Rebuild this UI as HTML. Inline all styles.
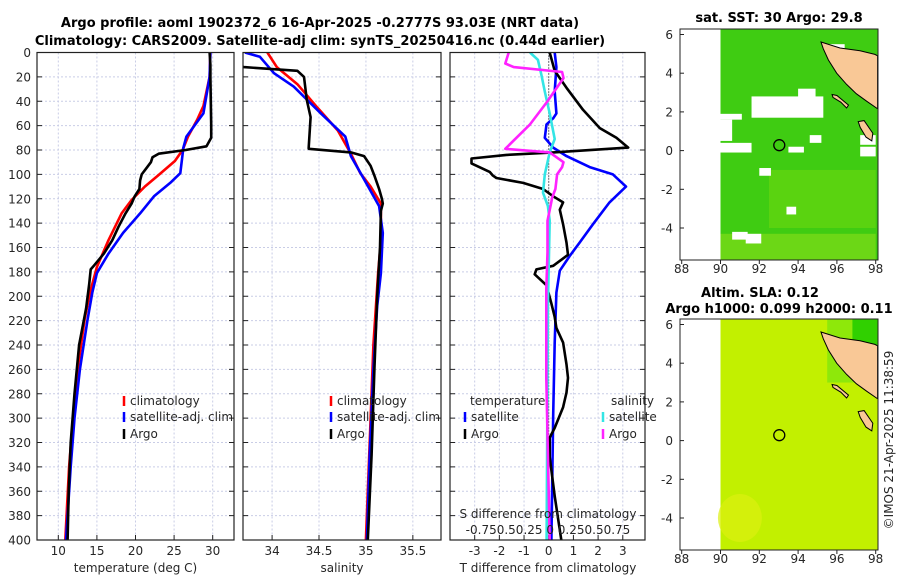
<!DOCTYPE html>
<html><head><meta charset="utf-8"><style>
html,body{margin:0;padding:0;background:#fff;}
svg{display:block;font-family:"DejaVu Sans","Liberation Sans",sans-serif;}
.t{font-size:12px;fill:#262626;}
.b{font-size:13px;font-weight:bold;fill:#000;}
</style></head><body>
<svg id="s" width="900" height="580" viewBox="0 0 900 580" xmlns="http://www.w3.org/2000/svg">
<defs>
<clipPath id="c1"><rect x="37" y="52.5" width="197" height="487.5"/></clipPath>
<clipPath id="c2"><rect x="243" y="52.5" width="198" height="487.5"/></clipPath>
<clipPath id="c3"><rect x="450" y="52.5" width="195" height="487.5"/></clipPath>
<clipPath id="m1"><rect x="680" y="29" width="198" height="231"/></clipPath>
<clipPath id="m2"><rect x="680" y="319" width="198" height="231"/></clipPath>
</defs>
<text class="b" x="320" y="27" text-anchor="middle">Argo profile: aoml 1902372_6 16-Apr-2025 -0.2777S 93.03E (NRT data)</text>
<text class="b" x="320" y="45" text-anchor="middle">Climatology: CARS2009. Satellite-adj clim: synTS_20250416.nc (0.44d earlier)</text>
<g id="root"></g>
</svg>
<script>
// ---- data ----
const depthTicks=[0,20,40,60,80,100,120,140,160,180,200,220,240,260,280,300,320,340,360,380,400];
const tempTicks=[10,15,20,25,30];
const salTicks=[34,34.5,35,35.5];
const salTickLabels=["34","34.5","35","35.5"];
const tdiffTicks=[-3,-2,-1,0,1,2,3];
const sdiffTickLabels=["-0.75","0.5","0.25","0","0.25","0.5","0.75"];

const argoTD=[0,10,20,40,60,70,77,80,83,86,90,95,100,105,112,118,124,132,143,154,165,175,178,190,210,240,280,320,360,400];
const argoT=[29.6,29.7,29.7,29.75,29.8,29.8,29.2,26.5,23,22.2,22,21.4,20.8,20.6,20.5,19.9,19.5,18.7,17.8,17.0,15.9,14.6,14.2,14.0,13.6,12.7,12.1,11.6,11.35,11.2];
const climTD=[0,20,44,55,69,80,89,101,110,121,132,154,176,197,219,260,300,340,400];
const climT=[29.7,29.6,28.8,28.0,26.8,26.1,25.1,22.9,21.2,19.5,18.2,16.5,15.0,14.1,13.4,12.5,11.9,11.4,10.9];
const satTD=[0,20,50,69,78,99,107,118,132,148,165,181,197,219,260,300,340,400];
const satT=[29.7,29.6,28.8,26.6,26.2,25.8,24.5,22.4,20.6,18.4,16.5,15.0,14.4,13.8,12.8,12.1,11.6,11.0];

const argoSD=[11,12,15,20,39,53,78,79,82,85,93,101,112,120,124,130,160,200,260,330,400];
const argoS=[33.6,33.7,34.27,34.34,34.37,34.41,34.39,34.39,34.84,34.98,35.05,35.09,35.14,35.17,35.18,35.16,35.15,35.12,35.09,35.06,35.02];
const climSD=[0,12,26,45,64,83,99,110,124,154,181,240,320,400];
const climS=[33.95,34.05,34.27,34.48,34.70,34.84,34.94,35.05,35.16,35.16,35.13,35.08,35.04,35.0];
const satSD=[0,3.5,17,28,50,69,85,104,126,148,181,208,260,330,400];
const satS=[33.71,33.87,34.02,34.23,34.52,34.78,34.84,34.98,35.14,35.18,35.16,35.12,35.08,35.04,35.01];

const dArgoTD=[0,15,29,47,62,70,78,82,84,87,91,98,101,103,107,112,118,123,129,141,156,166,175,178,182,191,206,217,226,238,256,267,279,291,308,316,332,364,400];
const dArgoT=[0.04,0.24,0.72,1.39,2.07,2.74,3.22,0.18,-1.71,-3.13,-3.13,-2.39,-2.26,-2.12,-1.04,-0.23,0.18,0.58,0.45,0.58,0.72,0.78,0.18,-0.5,-0.57,-0.09,0.11,0.24,0.31,0.58,0.72,0.78,0.72,0.58,0.24,0.04,0.04,0.24,0.51];
const dSatTD=[0,12,32,50,54,59,70,78,85,94,100,110,123,141,156,167,179,197,238,297,400];
const dSatT=[0.24,0.31,0.24,0.31,0.18,-0.09,-0.16,0.18,0.72,1.66,2.6,3.13,2.46,1.79,1.25,0.85,0.45,0.31,0.24,0.18,0.11];
const dArgoSD=[0,9,12,16,21,41,59,79,82,90,94,100,112,119,126,138,164,194,267,400];
const dArgoS=[-0.405,-0.44,-0.355,0.135,0.15,-0.022,-0.19,-0.44,0.01,0.15,0.135,0.085,0.068,0.035,0.018,-0.012,-0.012,-0.025,-0.025,0.01];
const dSatSD=[0,6,18,32,50,71,82,100,115,126,138,208,400];
const dSatS=[-0.19,-0.11,-0.075,-0.04,0.01,0.06,0.01,-0.04,-0.058,-0.008,0.01,-0.008,-0.022];

const lonTicks=[88,90,92,94,96,98];
const latTicks=[6,4,2,0,-2,-4];
const argoLon=93.03, argoLat=0.28;
const landLon=[95.18,96.16,97.19,97.96,98.1,98.1,97.54,97.0,96.5,95.99,95.56,95.3];
const landLat=[5.61,5.30,5.16,4.97,4.9,2.16,2.55,2.94,3.42,4.0,4.68,5.26];
const simLon=[95.75,96.0,96.6,96.5,96.2,95.8];
const simLat=[2.9,2.85,2.35,2.2,2.5,2.75];
const niasLon=[97.1,97.4,97.85,97.8,97.5,97.2];
const niasLat=[1.5,1.55,0.9,0.5,0.7,1.2];
// white gaps in SST map [lon0,lon1,lat0,lat1]
const gapLon0=[90,90,91.6,94.0,95.6,96.4,97.2,90.0,93.5,94.6,97.2,92.0,90.6,93.4,91.3];
const gapLon1=[90.6,91.1,95.3,94.9,96.4,97.2,98.0,91.6,94.3,95.2,98.0,92.6,91.4,93.9,92.1];
const gapLat0=[0.5,1.6,1.7,2.2,4.6,4.3,0.3,-0.1,-0.1,0.4,-0.3,-1.3,-4.6,-3.3,-4.8];
const gapLat1=[1.6,1.9,2.8,3.2,5.5,5.0,0.8,0.4,0.2,0.8,0.2,-0.9,-4.2,-2.9,-4.3];

// ---- helpers ----
const NS="http://www.w3.org/2000/svg";
const root=document.getElementById('root');
function mk(tag,attrs,parent){const e=document.createElementNS(NS,tag);for(const k in attrs)e.setAttribute(k,attrs[k]);(parent||root).appendChild(e);return e;}
const Y0=52.5,Y1=540;
const yD=d=>Y0+d/400*(Y1-Y0);
function lin(d0,d1,r0,r1){return v=>r0+(v-d0)/(d1-d0)*(r1-r0);}
const P=[
 {x0:37,x1:234,sc:lin(7.24,32.76,37,234),clip:'c1'},
 {x0:243,x1:441,sc:lin(33.69,35.80,243,441),clip:'c2'},
 {x0:450,x1:645,sc:lin(-4.0,3.9,450,645),clip:'c3'}];

function panelFrame(p,vt,name){
  const bg=mk('rect',{x:p.x0,y:Y0,width:p.x1-p.x0,height:Y1-Y0,fill:'#fff'});
  
  
  depthTicks.forEach(d=>{
    const g=mk('line',{x1:p.x0,x2:p.x1,y1:yD(d),y2:yD(d),stroke:'#c9cde6','stroke-width':1,'stroke-dasharray':'2,2'});
    
    
    const t1=mk('line',{x1:p.x0,x2:p.x0+5,y1:yD(d),y2:yD(d),stroke:'#222'});
    
    
    const t2=mk('line',{x1:p.x1-5,x2:p.x1,y1:yD(d),y2:yD(d),stroke:'#222'});
    
    
  });
  vt.forEach(v=>{
    const x=p.sc(v);
    const g=mk('line',{x1:x,x2:x,y1:Y0,y2:Y1,stroke:'#c9cde6','stroke-width':1,'stroke-dasharray':'2,2'});
    
    
    const t=mk('line',{x1:x,x2:x,y1:Y1-5,y2:Y1,stroke:'#222'});
    
    
  });
}
function frameBorder(p,name){
  const r=mk('rect',{x:p.x0,y:Y0,width:p.x1-p.x0,height:Y1-Y0,fill:'none',stroke:'#222','stroke-width':1.2});
  
  
}
function series(p,vals,depths,color,name,mult){
  mult=mult||1;
  const pts=vals.map((v,i)=>p.sc(v*mult).toFixed(1)+','+yD(depths[i]).toFixed(1)).join(' ');
  const l=mk('polyline',{points:pts,fill:'none',stroke:color,'stroke-width':2.6,'stroke-linejoin':'round','clip-path':'url(#'+p.clip+')'});
  
  
}
function txt(x,y,s,anchor,name,cls){
  const t=mk('text',{x:x,y:y,'text-anchor':anchor||'start',class:cls||'t'});
  t.textContent=s;
  
  
  return t;
}
function marker(x,y,color,name){
  const m=mk('line',{x1:x,x2:x,y1:y-5,y2:y+5,stroke:color,'stroke-width':2.5});
  
  
}

// ---- panel 1: temperature ----
panelFrame(P[0],tempTicks,'temperature-panel');
series(P[0],climT,climTD,'#ff0000','temperature-climatology-line');
series(P[0],satT,satTD,'#0000ff','temperature-satellite-line');
series(P[0],argoT,argoTD,'#000000','temperature-argo-line');
depthTicks.forEach(d=>txt(31,yD(d)+4.5,String(d),'end','depth-tick-label'));
tempTicks.forEach(v=>txt(P[0].sc(v),555,String(v),'middle','temperature-tick-label'));
txt(135.5,572,'temperature (deg C)','middle','temperature-axis-title');
marker(124,401,'#ff0000','legend-climatology-marker');
txt(130,405,'climatology','start','legend-climatology');
marker(124,417,'#0000ff','legend-satellite-marker');
txt(130,421,'satellite-adj. clim','start','legend-satellite-adj-clim');
marker(124,434,'#000000','legend-argo-marker');
txt(130,438,'Argo','start','legend-argo');
frameBorder(P[0],'temperature-panel');

// ---- panel 2: salinity ----
panelFrame(P[1],salTicks,'salinity-panel');
series(P[1],climS,climSD,'#ff0000','salinity-climatology-line');
series(P[1],satS,satSD,'#0000ff','salinity-satellite-line');
series(P[1],argoS,argoSD,'#000000','salinity-argo-line');
salTicks.forEach((v,i)=>txt(P[1].sc(v),555,salTickLabels[i],'middle','salinity-tick-label'));
txt(342,572,'salinity','middle','salinity-axis-title');
marker(331,401,'#ff0000','legend-climatology-marker');
txt(337,405,'climatology','start','legend-climatology');
marker(331,417,'#0000ff','legend-satellite-marker');
txt(337,421,'satellite-adj. clim','start','legend-satellite-adj-clim');
marker(331,434,'#000000','legend-argo-marker');
txt(337,438,'Argo','start','legend-argo');
frameBorder(P[1],'salinity-panel');

// ---- panel 3: differences ----
panelFrame(P[2],tdiffTicks,'difference-panel');
const z=mk('line',{x1:P[2].sc(0),x2:P[2].sc(0),y1:Y0,y2:Y1,stroke:'#000','stroke-width':1,'stroke-dasharray':'1,2'});


series(P[2],dSatT,dSatTD,'#0000ff','temperature-satellite-difference-line');
series(P[2],dArgoT,dArgoTD,'#000000','temperature-argo-difference-line');
series(P[2],dSatS,dSatSD,'#33e5e5','salinity-satellite-difference-line',4);
series(P[2],dArgoS,dArgoSD,'#ff22ff','salinity-argo-difference-line',4);
tdiffTicks.forEach(v=>txt(P[2].sc(v),555,String(v),'middle','t-difference-tick-label'));
txt(548,572,'T difference from climatology','middle','t-difference-axis-title');
txt(548,518,'S difference from climatology','middle','s-difference-axis-title');
txt(548,534,'-0.750.50.25 0  0.250.50.75','middle','s-difference-tick-labels');
txt(470,405,'temperature','start','legend-temperature-heading');
txt(611,405,'salinity','start','legend-salinity-heading');
marker(465,417,'#0000ff','legend-t-satellite-marker');
txt(471,421,'satellite','start','legend-t-satellite');
marker(465,434,'#000000','legend-t-argo-marker');
txt(471,438,'Argo','start','legend-t-argo');
marker(603,417,'#33e5e5','legend-s-satellite-marker');
txt(609,421,'satellite','start','legend-s-satellite');
marker(603,434,'#ff22ff','legend-s-argo-marker');
txt(609,438,'Argo','start','legend-s-argo');
frameBorder(P[2],'difference-panel');

// ---- maps ----
const lonX=lin(88,98,681.7,875.7);
function mapPanel(top,clip,name,base,kind){
  const latY=lin(6,-4,top+5.5,top+199);
  const g=mk('g',{'clip-path':'url(#'+clip+')'});
  
  
  const bgr=mk('rect',{x:680,y:top,width:198,height:231,fill:'#fff'},g);
  
  
  const d=mk('rect',{x:lonX(90),y:top,width:878-lonX(90),height:231,fill:base},g);
  
  
  if(kind==='sst'){
    const a=mk('rect',{x:lonX(92.5),y:latY(-1),width:lonX(98)-lonX(92.5),height:latY(-4)-latY(-1),fill:'#7ddc10',opacity:0.45},g);
    
    
    const b=mk('rect',{x:lonX(90),y:latY(-4.3),width:lonX(98)-lonX(90),height:40,fill:'#9ae21a',opacity:0.5},g);
    
    
    gapLon0.forEach((l0,i)=>{
      const r=mk('rect',{x:lonX(l0),y:latY(gapLat1[i]),width:lonX(gapLon1[i])-lonX(l0),height:latY(gapLat0[i])-latY(gapLat1[i]),fill:'#fff'},g);
      
      
    });
  } else {
    const a=mk('rect',{x:lonX(95.5),y:top,width:878-lonX(95.5),height:latY(3)-top,fill:'#8ee80a'},g);
    
    
    const c=mk('rect',{x:lonX(96.8),y:top,width:878-lonX(96.8),height:latY(4.8)-top,fill:'#30d000'},g);
    
    
    const e=mk('ellipse',{cx:lonX(91),cy:latY(-4),rx:22,ry:24,fill:'#dcef10',opacity:0.7},g);
    
    
  }
  [[landLon,landLat,'land-sumatra'],[simLon,simLat,'land-simeulue'],[niasLon,niasLat,'land-nias']].forEach(([lo,la,nm])=>{
    const pts=lo.map((v,i)=>lonX(v).toFixed(1)+','+latY(la[i]).toFixed(1)).join(' ');
    const p=mk('polygon',{points:pts,fill:'#f9c896',stroke:'#000','stroke-width':1},g);
    
    
  });
  const c=mk('circle',{cx:lonX(argoLon),cy:latY(argoLat),r:5.5,fill:'none',stroke:'#000','stroke-width':1.3});
  
  
  const bd=mk('rect',{x:680,y:top,width:198,height:231,fill:'none',stroke:'#222','stroke-width':1});
  
  
  latTicks.forEach(v=>{
    txt(673,latY(v)+4.5,String(v),'end','latitude-tick-label');
    const t=mk('line',{x1:680,x2:684,y1:latY(v),y2:latY(v),stroke:'#222'});
    
    
  });
  lonTicks.forEach(v=>{
    txt(lonX(v),top+244,String(v),'middle','longitude-tick-label');
    const t=mk('line',{x1:lonX(v),x2:lonX(v),y1:top+231,y2:top+235,stroke:'#222'});
    
    
  });
}
mapPanel(29,'m1','sst-map','#3fcc12','sst');
mapPanel(319,'m2','sla-map','#c2f000','sla');
txt(779,22,'sat. SST: 30 Argo: 29.8','middle','sst-map-title','b');
txt(760,297,'Altim. SLA: 0.12','middle','sla-map-title-1','b');
txt(779,313,'Argo h1000: 0.099 h2000: 0.11','middle','sla-map-title-2','b');
const cr=txt(0,0,'©IMOS 21-Apr-2025 11:38:59','middle','copyright-timestamp');
cr.setAttribute('transform','translate(893,440) rotate(-90)');
</script>
</body></html>
